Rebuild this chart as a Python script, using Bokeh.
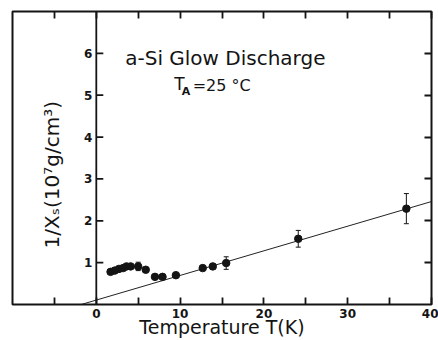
import math
from bokeh.plotting import figure
from bokeh.models import (Range1d, LinearAxis, FixedTicker, Span, Label,
                          ColumnDataSource, Whisker, TeeHead)
from bokeh.core.properties import value
from bokeh.embed import file_html
from bokeh.resources import INLINE

# ---- data ----
temp_K = [1.7, 2.2, 2.7, 3.2, 3.6, 4.1, 5.0, 5.9, 7.0, 7.9, 9.5, 12.7, 13.9, 15.5, 24.1, 37.0]
inv_chi = [0.78, 0.81, 0.85, 0.87, 0.91, 0.91, 0.91, 0.83, 0.66, 0.66, 0.70, 0.87, 0.91, 0.99, 1.57, 2.29]
err = [0, 0, 0, 0, 0, 0, 0.10, 0, 0, 0, 0, 0, 0.07, 0.15, 0.20, 0.36]

fit_x = [-1.8, 40.0]
fit_y = [0.0, 2.46]

x_ticks = [-5, 0, 5, 10, 15, 20, 25, 30, 35, 40]
x_tick_labels = {0: "0", 10: "10", 20: "20", 30: "30", 40: "40"}
y_ticks = [1, 2, 3, 4, 5, 6]
y_tick_labels = ["1", "2", "3", "4", "5", "6"]

FONT = "DejaVu Sans"
INK = "#141414"

p = figure(x_range=Range1d(-10, 40), y_range=Range1d(0, 7),
           width=438, height=340,
           x_axis_location=None, y_axis_location=None,
           output_backend="svg", toolbar_location=None)
p.min_border = 0
p.min_border_left = 12
p.min_border_right = 7
p.min_border_top = 11
p.min_border_bottom = 35
p.grid.grid_line_color = None
p.outline_line_color = INK
p.outline_line_width = 2
p.background_fill_color = "#ffffff"
p.border_fill_color = "#ffffff"

# bottom axis (ticks inward, labels at decades)
xb = LinearAxis(ticker=FixedTicker(ticks=x_ticks),
                major_label_overrides={t: x_tick_labels.get(t, "") for t in x_ticks},
                major_tick_in=7, major_tick_out=0, minor_tick_line_color=None,
                axis_line_color=None, major_tick_line_width=1.8, major_tick_line_color=INK,
                major_label_standoff=4,
                major_label_text_font=FONT, major_label_text_font_style="bold",
                major_label_text_font_size="12px", major_label_text_color=INK,
                axis_label="Temperature T(K)", axis_label_standoff=-5,
                axis_label_text_font=FONT, axis_label_text_font_style="normal",
                axis_label_text_font_size="19px", axis_label_text_color=INK)
p.add_layout(xb, "below")

# top axis: ticks only
xt = LinearAxis(ticker=FixedTicker(ticks=x_ticks),
                major_label_overrides={t: "" for t in x_ticks},
                major_tick_in=7, major_tick_out=0, minor_tick_line_color=None,
                axis_line_color=None, major_tick_line_width=1.8, major_tick_line_color=INK,
                major_label_standoff=0, major_label_text_font_size="6px")
p.add_layout(xt, "above")

# right axis: ticks only
yr = LinearAxis(ticker=FixedTicker(ticks=y_ticks),
                major_label_overrides={t: "" for t in y_ticks},
                major_tick_in=7, major_tick_out=0, minor_tick_line_color=None,
                axis_line_color=None, major_tick_line_width=1.8, major_tick_line_color=INK,
                major_label_standoff=0, major_label_text_font_size="6px")
p.add_layout(yr, "right")

# y axis drawn at T = 0
p.add_layout(Span(location=0, dimension="height", line_color=INK, line_width=1.8))
ysrc = ColumnDataSource(dict(y=y_ticks, lab=y_tick_labels, x=[0] * len(y_ticks)))
p.ray(x="x", y="y", length=7, length_units="screen", angle=0,
      line_color=INK, line_width=1.8, source=ysrc)
p.text(x="x", y="y", text="lab", x_offset=-4, text_align="right",
       text_baseline="middle", text_font=value(FONT), text_font_style="bold",
       text_font_size="12px", text_color=INK, source=ysrc)

# fit line
p.line(fit_x, fit_y, line_color="#222222", line_width=1)

# error bars
ex = [t for t, e in zip(temp_K, err) if e > 0]
ey = [v for v, e in zip(inv_chi, err) if e > 0]
ee = [e for e in err if e > 0]
esrc = ColumnDataSource(dict(x=ex, upper=[v + e for v, e in zip(ey, ee)],
                             lower=[v - e for v, e in zip(ey, ee)]))
p.add_layout(Whisker(base="x", upper="upper", lower="lower", source=esrc,
                     line_color=INK, line_width=1,
                     upper_head=TeeHead(size=5, line_color=INK, line_width=1),
                     lower_head=TeeHead(size=5, line_color=INK, line_width=1)))

# data points
p.scatter(temp_K, inv_chi, size=7.5, color=INK)

# texts
p.add_layout(Label(x=15.4, y=5.88, text="a-Si Glow Discharge", text_align="center",
                   text_baseline="alphabetic", text_font=FONT, text_font_size="20px",
                   text_color=INK))
p.add_layout(Label(x=9.3, y=5.26, text="T", text_align="left",
                   text_baseline="alphabetic", text_font=FONT, text_font_size="17px",
                   text_color=INK))
p.add_layout(Label(x=10.2, y=5.08, text="A", text_align="left",
                   text_baseline="alphabetic", text_font=FONT, text_font_style="bold",
                   text_font_size="11px", text_color=INK))
p.add_layout(Label(x=11.5, y=5.24, text="=25 \u00b0C", text_align="left",
                   text_baseline="alphabetic", text_font=FONT, text_font_size="16px",
                   text_color=INK))
p.add_layout(Label(x=-5.3, y=3.1, text="1/X\u209b(10\u2077g/cm\u00b3)", angle=math.pi / 2,
                   text_align="center", text_baseline="middle", text_font=FONT,
                   text_font_size="20px", text_color=INK))

open("out.html", "w").write(file_html(p, INLINE))
